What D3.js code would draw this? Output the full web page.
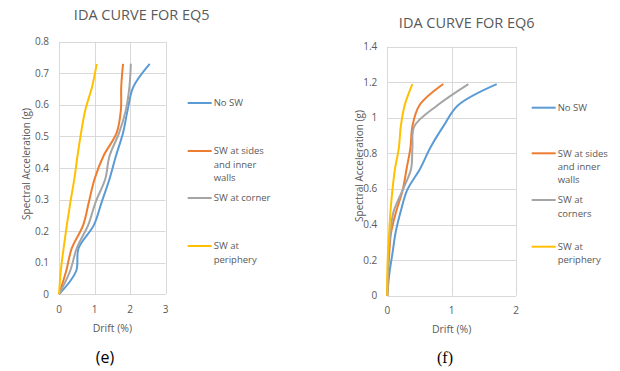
<!DOCTYPE html>
<meta charset="utf-8">
<style>
    body { margin: 0; background: #fff; }
    svg text { font-family: "Open Sans", "Liberation Sans", sans-serif; fill: #595959; }
    .grid line { stroke: #d9d9d9; stroke-width: 1px; }
    .series { fill: none; stroke-width: 2px; }
</style>
<body>
<svg width="620" height="371"></svg>
<script src="https://d3js.org/d3.v7.min.js"></script>
<script>
    // EQ5 data (drift % at each Sa level)
    const saEq5 = [0, 0.073, 0.146, 0.219, 0.292, 0.365, 0.438, 0.511, 0.584, 0.657, 0.73];
    const eq5NoSw = [0, 0.48, 0.55, 0.98, 1.2, 1.42, 1.6, 1.8, 1.93, 2.09, 2.55];
    const eq5Sides = [0, 0.2, 0.36, 0.68, 0.84, 1.0, 1.25, 1.62, 1.74, 1.75, 1.8];
    const eq5Corner = [0, 0.31, 0.5, 0.82, 1.03, 1.3, 1.42, 1.69, 1.88, 1.98, 2.02];
    const eq5Periphery = [0, 0.05, 0.13, 0.22, 0.32, 0.43, 0.52, 0.62, 0.74, 0.93, 1.06];

    // EQ6 data
    const saEq6 = [0, 0.119, 0.238, 0.357, 0.476, 0.595, 0.714, 0.833, 0.952, 1.071, 1.19];
    const eq6NoSw = [0, 0.03, 0.08, 0.13, 0.21, 0.31, 0.51, 0.67, 0.87, 1.1, 1.7];
    const eq6Sides = [0, 0.01, 0.03, 0.06, 0.14, 0.24, 0.3, 0.36, 0.39, 0.5, 0.87];
    const eq6Corners = [0, 0.01, 0.02, 0.05, 0.1, 0.24, 0.37, 0.39, 0.42, 0.78, 1.26];
    const eq6Periphery = [0, 0.0, 0.01, 0.03, 0.05, 0.08, 0.12, 0.18, 0.21, 0.27, 0.39];

    const namesEq5 = [["No SW"], ["SW at sides", "and inner", "walls"], ["SW at corner"], ["SW at", "periphery"]];
    const namesEq6 = [["No SW"], ["SW at sides", "and inner", "walls"], ["SW at", "corners"], ["SW at", "periphery"]];
    const colors = ["#5B9BD5", "#ED7D31", "#A5A5A5", "#FFC000"];

    const xTicksEq5 = [0, 1, 2, 3];
    const yTicksEq5 = [0, 0.1, 0.2, 0.3, 0.4, 0.5, 0.6, 0.7, 0.8];
    const xTicksEq6 = [0, 1, 2];
    const yTicksEq6 = [0, 0.2, 0.4, 0.6, 0.8, 1, 1.2, 1.4];

    const svg = d3.select("svg");

    function drawChart(c) {
        const g = svg.append("g");
        const x = d3.scaleLinear().domain(c.xDomain).range([c.left, c.right]);
        const y = d3.scaleLinear().domain(c.yDomain).range([c.bottom, c.top]);

        const grid = g.append("g").attr("class", "grid");
        grid.selectAll(".h").data(c.yTicks).enter().append("line")
            .attr("x1", c.left).attr("x2", c.right)
            .attr("y1", d => Math.round(y(d)) + 0.5).attr("y2", d => Math.round(y(d)) + 0.5);
        grid.selectAll(".v").data(c.xTicks).enter().append("line")
            .attr("y1", c.top).attr("y2", c.bottom)
            .attr("x1", d => Math.round(x(d)) + 0.5).attr("x2", d => Math.round(x(d)) + 0.5);

        // tick labels
        g.selectAll(".yl").data(c.yTicks).enter().append("text")
            .attr("x", c.left - 10).attr("y", d => y(d)).attr("dy", "0.35em")
            .attr("text-anchor", "end").style("font-size", "10px")
            .text(d => d);
        g.selectAll(".xl").data(c.xTicks).enter().append("text")
            .attr("x", d => x(d)).attr("y", c.bottom + 15).attr("dy", "0.35em")
            .attr("text-anchor", "middle").style("font-size", "10px")
            .text(d => d);

        const line = d3.line()
            .x(d => x(d[0])).y(d => y(d[1]))
            .curve(d3.curveCatmullRom.alpha(0.5));

        c.series.forEach((s, i) => {
            g.append("path").attr("class", "series")
                .attr("stroke", colors[i])
                .attr("d", line(s.map((v, j) => [v, c.sa[j]])));
        });

        // titles
        g.append("text").attr("x", c.titleX).attr("y", c.titleY).attr("dy", "0.35em")
            .attr("text-anchor", "middle").style("font-size", "14.5px").text(c.title);
        g.append("text").attr("transform", "translate(" + c.yTitleX + "," + c.yTitleY + ") rotate(-90)")
            .attr("dy", "0.35em").attr("text-anchor", "middle").style("font-size", "10px")
            .text("Spectral  Acceleration (g)");
        g.append("text").attr("x", (c.left + c.right) / 2).attr("y", c.bottom + 34).attr("dy", "0.35em")
            .attr("text-anchor", "middle").style("font-size", "10.5px").text("Drift (%)");
        g.append("text").attr("x", c.capX).attr("y", 357).attr("dy", "0.35em")
            .attr("text-anchor", "middle").style("font-size", "16px")
            .style("font-family", c.capFont).style("fill", "#000").text(c.caption);

        // legend
        c.names.forEach((lines, i) => {
            const ly = c.legendY[i];
            g.append("line").attr("x1", c.legX).attr("x2", c.legX + 24)
                .attr("y1", ly).attr("y2", ly)
                .attr("stroke", colors[i]).attr("stroke-width", 2);
            lines.forEach((t, k) => {
                g.append("text").attr("x", c.legX + 26).attr("y", ly + k * 13.3).attr("dy", "0.35em")
                    .style("font-size", "9.5px").text(t);
            });
        });
    }

    drawChart({
        sa: saEq5, series: [eq5NoSw, eq5Sides, eq5Corner, eq5Periphery], names: namesEq5,
        xDomain: [0, 3], yDomain: [0, 0.8], xTicks: xTicksEq5, yTicks: yTicksEq5,
        left: 59, right: 165.7, top: 41.7, bottom: 294.3,
        title: "IDA CURVE FOR EQ5", titleX: 141.7, titleY: 15,
        yTitleX: 26, yTitleY: 164,
        caption: "(e)", capX: 105, capFont: "'Open Sans', sans-serif",
        legX: 187.7, legendY: [103, 151, 198, 246]
    });

    drawChart({
        sa: saEq6, series: [eq6NoSw, eq6Sides, eq6Corners, eq6Periphery], names: namesEq6,
        xDomain: [0, 2], yDomain: [0, 1.4], xTicks: xTicksEq6, yTicks: yTicksEq6,
        left: 387.3, right: 516, top: 46.7, bottom: 295.7,
        title: "IDA CURVE FOR EQ6", titleX: 466.7, titleY: 22.7,
        yTitleX: 359.5, yTitleY: 166,
        caption: "(f)", capX: 445, capFont: "'Liberation Serif', serif",
        legX: 531.7, legendY: [107.7, 153.3, 200, 246.7]
    });
</script>
</body>
